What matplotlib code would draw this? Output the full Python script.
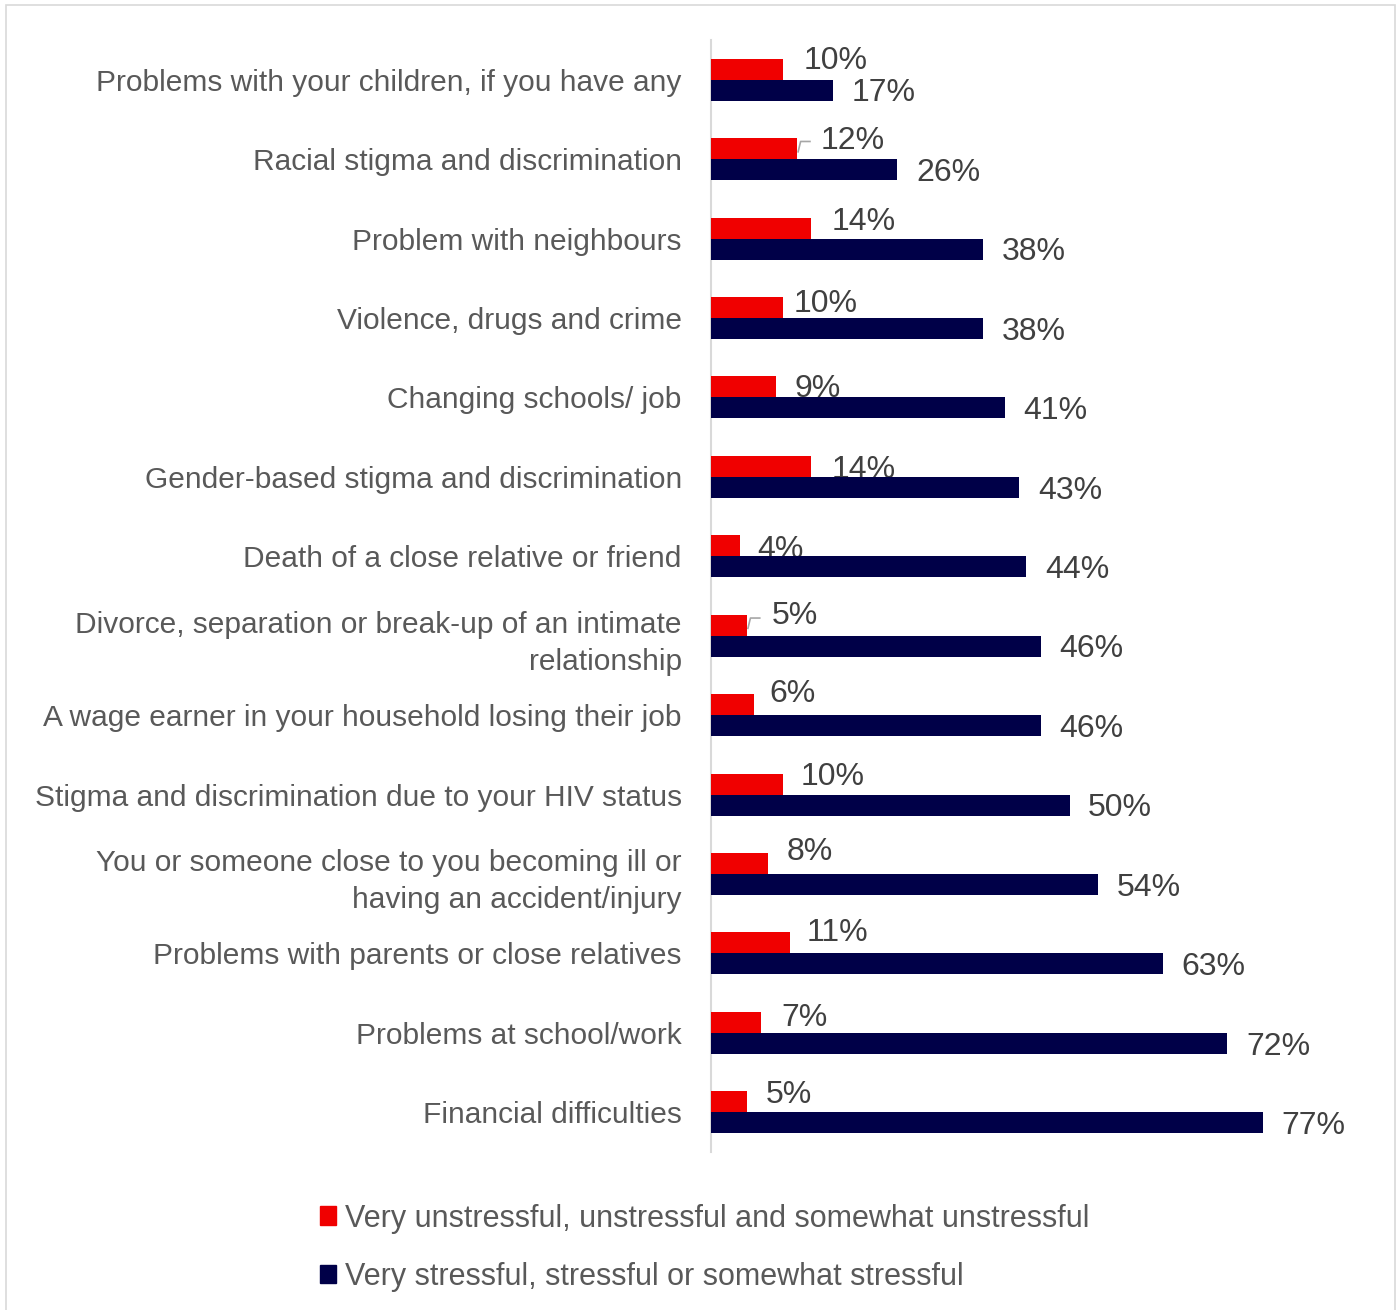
import matplotlib.pyplot as plt
from matplotlib.patches import Patch, Rectangle

categories = [
    'Problems with your children, if you have any',
    'Racial stigma and discrimination',
    'Problem with neighbours',
    'Violence, drugs and crime',
    'Changing schools/ job',
    'Gender-based stigma and discrimination',
    'Death of a close relative or friend',
    'Divorce, separation or break-up of an intimate\nrelationship',
    'A wage earner in your household losing their job',
    'Stigma and discrimination due to your HIV status',
    'You or someone close to you becoming ill or\nhaving an accident/injury',
    'Problems with parents or close relatives',
    'Problems at school/work',
    'Financial difficulties',
]
unstressful = [10, 12, 14, 10, 9, 14, 4, 5, 6, 10, 8, 11, 7, 5]
stressful = [17, 26, 38, 38, 41, 43, 44, 46, 46, 50, 54, 63, 72, 77]
series_names = ['Very unstressful, unstressful and somewhat unstressful',
                'Very stressful, stressful or somewhat stressful']

RED = '#F00000'
NAVY = '#000048'
LABEL_GREY = '#595959'
VALUE_GREY = '#404040'
LABEL_FONT = 'Liberation Sans'

# hand-placed offsets for the red value labels (x in %, y in rows)
red_dx = [2.9, 3.3, 2.8, 1.5, 2.6, 2.8, 2.5, 3.5, 2.1, 2.5, 2.6, 2.4, 2.8, 2.6]
red_dy = [-0.10, -0.09, -0.08, -0.04, 0.03, 0.04, 0.05, -0.12, -0.13,
          -0.09, -0.15, -0.13, -0.06, -0.09]
leader_rows = [1, 7]

W, H = 1396, 1310
fig = plt.figure(figsize=(W / 100, H / 100), dpi=100)
ax = fig.add_axes([711 / W, 1 - 1152 / H, (1380 - 711) / W, (1152 - 40) / H])

bh = 0.265
y = list(range(len(categories)))
y_red = [v - bh / 2 for v in y]
y_navy = [v + bh / 2 for v in y]

ax.barh(y_red, unstressful, height=bh, color=RED, zorder=3)
ax.barh(y_navy, stressful, height=bh, color=NAVY, zorder=3)

for i, v in enumerate(stressful):
    ax.text(v + 2.6, y_navy[i] + 0.04, f'{v}%', fontsize=23, color=VALUE_GREY,
            ha='left', va='center', family='Liberation Sans', zorder=2)

for i, v in enumerate(unstressful):
    ax.text(v + red_dx[i], y_red[i] + red_dy[i], f'{v}%', fontsize=23,
            color=VALUE_GREY, ha='left', va='center', family='Liberation Sans',
            zorder=2)

# small leader lines for the two labels pushed away from their bars
for i in leader_rows:
    v = unstressful[i]
    ax.plot([v + 0.15, v + 0.5, v + 1.8],
            [y_red[i] + 0.04, y_red[i] - 0.09, y_red[i] - 0.09],
            color='#A6A6A6', lw=1.2, zorder=4, clip_on=False)

ax.set_xlim(0, (1380 - 711) / 7.17)
ax.set_ylim(len(categories) - 0.5, -0.5)
ax.set_xticks([])
ax.set_yticks(y)
ax.set_yticklabels(categories, fontsize=21.5, color=LABEL_GREY,
                   family=LABEL_FONT, linespacing=1.42)
ax.tick_params(axis='y', length=0, pad=21)
for s in ['top', 'right', 'bottom']:
    ax.spines[s].set_visible(False)
ax.spines['left'].set_color('#D9D9D9')
ax.spines['left'].set_linewidth(1.5)

handles = [Patch(color=RED), Patch(color=NAVY)]
fig.legend(handles, series_names, loc='upper left',
           bbox_to_anchor=(292 / W, 1 - 1176 / H), frameon=False,
           prop={'family': LABEL_FONT, 'size': 22},
           labelcolor=LABEL_GREY, handlelength=0.55, handleheight=0.55,
           handletextpad=0.3, labelspacing=0.92)

fig.patches.append(Rectangle((5.5 / W, -0.01), 1389 / W, 1 - 5.5 / H + 0.01,
                             transform=fig.transFigure, fill=False,
                             edgecolor='#D9D9D9', lw=1.2))

fig.savefig('out.png', dpi=100)
